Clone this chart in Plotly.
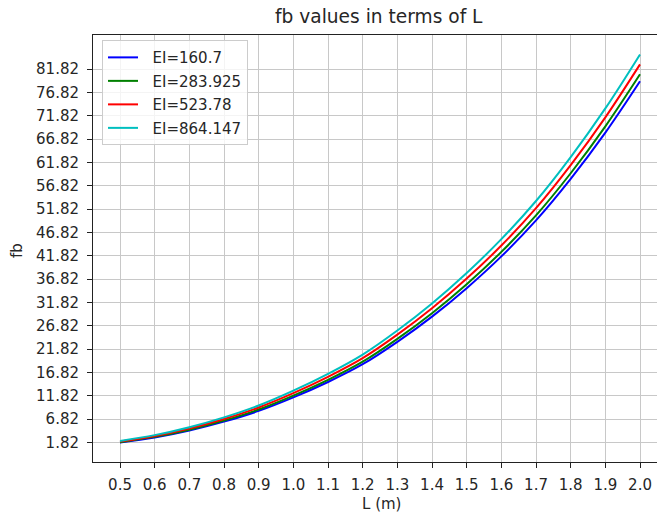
import plotly.graph_objects as go

L = [0.5, 0.6, 0.7, 0.8, 0.9, 1.0, 1.1, 1.2, 1.3, 1.4, 1.5, 1.6, 1.7, 1.8, 1.9, 2.0]

fb_160 = [1.82, 2.90, 4.40, 6.30, 8.60, 11.50, 14.80, 18.60, 23.40, 28.80, 34.90, 41.70, 49.40, 58.30, 68.20, 79.20]
fb_283 = [1.91, 3.04, 4.58, 6.54, 8.90, 11.87, 15.25, 19.14, 24.03, 29.53, 35.74, 42.66, 50.48, 59.51, 69.55, 80.70]
fb_523 = [2.05, 3.23, 4.85, 6.88, 9.34, 12.41, 15.90, 19.90, 24.93, 30.58, 36.94, 44.02, 52.02, 61.24, 71.48, 82.83]
fb_864 = [2.18, 3.42, 5.11, 7.22, 9.77, 12.94, 16.54, 20.67, 25.83, 31.62, 38.14, 45.39, 53.56, 62.97, 73.40, 84.96]

series_names = ["EI=160.7", "EI=283.925", "EI=523.78", "EI=864.147"]
series_values = [fb_160, fb_283, fb_523, fb_864]
colors = ["#0000ff", "#008000", "#ff0000", "#00bfbf"]

x_ticks = [0.5, 0.6, 0.7, 0.8, 0.9, 1.0, 1.1, 1.2, 1.3, 1.4, 1.5, 1.6, 1.7, 1.8, 1.9, 2.0]
x_tick_labels = ["0.5", "0.6", "0.7", "0.8", "0.9", "1.0", "1.1", "1.2", "1.3", "1.4",
                 "1.5", "1.6", "1.7", "1.8", "1.9", "2.0"]
y_ticks = [1.82, 6.82, 11.82, 16.82, 21.82, 26.82, 31.82, 36.82, 41.82, 46.82, 51.82,
           56.82, 61.82, 66.82, 71.82, 76.82, 81.82]
y_tick_labels = ["1.82", "6.82", "11.82", "16.82", "21.82", "26.82", "31.82", "36.82",
                 "41.82", "46.82", "51.82", "56.82", "61.82", "66.82", "71.82", "76.82", "81.82"]

FONT = "DejaVu Sans"
TXT = "#262626"
PAD = "\u00a0\u00a0"

fig = go.Figure()
for i, (name, vals, col) in enumerate(zip(series_names, series_values, colors)):
    fig.add_trace(go.Scatter(
        x=L, y=vals, mode="lines", name=PAD + name,
        line=dict(color=col, width=2, shape="spline", smoothing=1.0),
        legendgroup="g%d" % i,
    ))

fig.update_layout(
    width=657, height=516,
    margin=dict(l=93, r=0, t=35, b=54, autoexpand=False),
    paper_bgcolor="white", plot_bgcolor="white",
    font=dict(family=FONT, size=15, color=TXT),
    showlegend=True,
    legend=dict(
        x=0.016, y=0.988, xanchor="left", yanchor="top",
        bgcolor="rgba(255,255,255,0.8)", bordercolor="#cccccc", borderwidth=1,
        font=dict(family=FONT, size=15, color=TXT),
        tracegroupgap=1,
    ),
    xaxis=dict(
        range=[0.4221, 2.049], tickmode="array", tickvals=x_ticks, ticktext=x_tick_labels,
        showgrid=True, gridcolor="#c8c8c8", gridwidth=1,
        showline=True, linecolor="#222222", linewidth=1, mirror=True,
        ticks="outside", ticklen=5, tickwidth=1, tickcolor="#222222",
        tickfont=dict(family=FONT, size=15, color=TXT),
        zeroline=False, ticklabelstandoff=4, automargin=False,
    ),
    yaxis=dict(
        range=[-2.34, 89.12], tickmode="array", tickvals=y_ticks, ticktext=y_tick_labels,
        showgrid=True, gridcolor="#c8c8c8", gridwidth=1,
        showline=True, linecolor="#222222", linewidth=1, mirror=False,
        ticks="outside", ticklen=5, tickwidth=1, tickcolor="#222222",
        tickfont=dict(family=FONT, size=15, color=TXT),
        zeroline=False, ticklabelstandoff=5, automargin=False,
    ),
    annotations=[
        dict(text="fb values in terms of L", xref="paper", yref="paper",
             x=(379 - 93) / 564, y=(462 - 17) / 427, xanchor="center", yanchor="middle",
             showarrow=False, font=dict(family=FONT, size=18.6, color=TXT)),
        dict(text="L (m)", xref="paper", yref="paper",
             x=(381 - 93) / 564, y=(462 - 504) / 427, xanchor="center", yanchor="middle",
             showarrow=False, font=dict(family=FONT, size=15, color=TXT)),
        dict(text="fb", xref="paper", yref="paper", textangle=-90,
             x=(17 - 93) / 564, y=(462 - 251) / 427, xanchor="center", yanchor="middle",
             showarrow=False, font=dict(family=FONT, size=15, color=TXT)),
    ],
)

fig.write_html("out.html", config={"displayModeBar": False},
               post_script="document.body.style.margin='0';")
